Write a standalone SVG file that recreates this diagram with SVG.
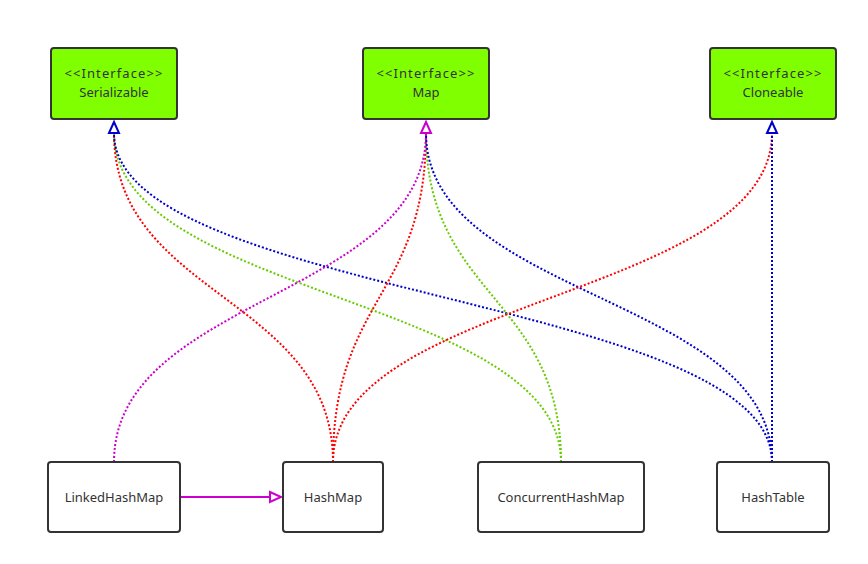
<svg xmlns="http://www.w3.org/2000/svg" width="868" height="564" viewBox="0 0 868 564">
<style>
.iface rect{fill:#80ff00;stroke:#333;stroke-width:2}
.cls rect{fill:#fff;stroke:#333;stroke-width:2}
text{font-family:"Noto Sans","Open Sans",sans-serif;font-size:13px;fill:#333;text-anchor:middle}
.st{letter-spacing:1.1px}
.dot{fill:none;stroke-width:2;stroke-dasharray:2 2}
.r{stroke:#ff0000}.g{stroke:#66cc00}.b{stroke:#0000cc}.m{stroke:#cc00cc}
</style>
<defs>
<marker id="ab" markerUnits="userSpaceOnUse" markerWidth="14" markerHeight="12" refX="1" refY="5" orient="auto" overflow="visible"><path d="M1,0 L12,5 L1,10 z" fill="#fff" stroke="#0000cc" stroke-width="2"/></marker>
<marker id="am" markerUnits="userSpaceOnUse" markerWidth="14" markerHeight="12" refX="1" refY="5" orient="auto" overflow="visible"><path d="M1,0 L12,5 L1,10 z" fill="#fff" stroke="#cc00cc" stroke-width="2"/></marker>
</defs>
<rect width="868" height="564" fill="#fff"/>
<g id="connectors">
<path class="dot r" d="M333,462 C333,297 114,297 114,133"/>
<path class="dot g" d="M561,462 C561,297 114,297 114,133"/>
<path class="dot b" d="M772,462 C772,297 114,297 114,133" marker-end="url(#ab)"/>
<path class="dot r" d="M333,462 C333,297 426,297 426,133"/>
<path class="dot g" d="M561,462 C561,297 426,297 426,133"/>
<path class="dot b" d="M772,462 C772,297 426,297 426,133"/>
<path class="dot m" d="M114,462 C114,297 426,297 426,133" marker-end="url(#am)"/>
<path class="dot r" d="M333,462 C333,297 772,297 772,133"/>
<path class="dot b" d="M772,462 L772,133" marker-end="url(#ab)"/>
<path fill="none" stroke="#cc00cc" stroke-width="2" d="M180,497 L270,497" marker-end="url(#am)"/>
</g>
<g id="Serializable" class="iface"><rect x="51" y="48" width="126" height="71" rx="3"/><text class="st" x="114" y="78">&lt;&lt;Interface&gt;&gt;</text><text x="114" y="96.5">Serializable</text></g>
<g id="Map" class="iface"><rect x="363" y="48" width="126" height="71" rx="3"/><text class="st" x="426" y="78">&lt;&lt;Interface&gt;&gt;</text><text x="426" y="96.5">Map</text></g>
<g id="Cloneable" class="iface"><rect x="710" y="48" width="126" height="71" rx="3"/><text class="st" x="773" y="78">&lt;&lt;Interface&gt;&gt;</text><text x="773" y="96.5">Cloneable</text></g>
<g id="LinkedHashMap" class="cls"><rect x="48" y="462" width="132" height="70" rx="3"/><text x="114" y="502">LinkedHashMap</text></g>
<g id="HashMap" class="cls"><rect x="283" y="462" width="100" height="70" rx="3"/><text x="333" y="502">HashMap</text></g>
<g id="ConcurrentHashMap" class="cls"><rect x="478" y="462" width="166" height="70" rx="3"/><text x="561" y="502">ConcurrentHashMap</text></g>
<g id="HashTable" class="cls"><rect x="717" y="462" width="112" height="70" rx="3"/><text x="773" y="502">HashTable</text></g>
</svg>
